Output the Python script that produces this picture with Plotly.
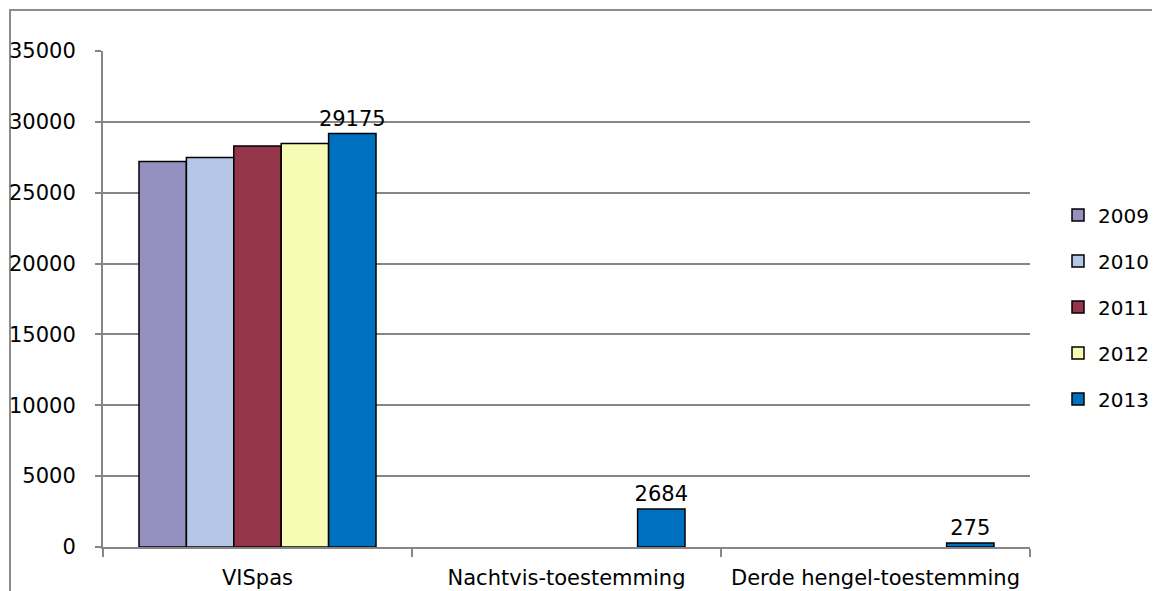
import plotly.graph_objects as go

categories = ["VISpas", "Nachtvis-toestemming", "Derde hengel-toestemming"]
years = ["2009", "2010", "2011", "2012", "2013"]
values_2009 = [27200, None, None]
values_2010 = [27480, None, None]
values_2011 = [28300, None, None]
values_2012 = [28480, None, None]
values_2013 = [29175, 2684, 275]
series = [values_2009, values_2010, values_2011, values_2012, values_2013]
colors = ["#9490C0", "#B4C7E7", "#953549", "#F7FBB4", "#0070C0"]
y_ticks = [0, 5000, 10000, 15000, 20000, 25000, 30000, 35000]
y_tick_labels = [str(v) for v in y_ticks]

FONT = "DejaVu Sans"
FS = 21
fig = go.Figure()
for i, (yr, vals, col) in enumerate(zip(years, series, colors)):
    show_text = yr == "2013"
    fig.add_trace(go.Bar(
        x=categories, y=vals, name=yr, legendgroup=yr,
        marker=dict(color=col, line=dict(color="#000000", width=1.5)),
        text=[str(v) if (show_text and v is not None) else "" for v in vals],
        textposition="outside", cliponaxis=False, constraintext="none",
        textfont=dict(family=FONT, size=FS, color="#000000"),
        outsidetextfont=dict(family=FONT, size=FS, color="#000000"),
    ))

# page body has an 8px margin: figure sits at (8, 8) in the window
OFF = 8
W, H = 1160 - OFF, 591 - OFF
L, T = 103 - OFF, 51 - OFF
R = W - (1030 - OFF)
B = H - (547 - OFF)
pw, ph = W - L - R, H - T - B

fig.update_layout(
    width=W, height=H, autosize=False,
    margin=dict(l=L, r=R, t=T, b=B, pad=0, autoexpand=False),
    paper_bgcolor="white", plot_bgcolor="white",
    barmode="group", bargap=0.233, bargroupgap=0,
    font=dict(family=FONT, size=FS, color="#000000"),
    showlegend=True,
    legend=dict(x=(1058 - 103) / pw, xanchor="left", y=(547 - 307) / ph, yanchor="middle",
                font=dict(family=FONT, size=20), tracegroupgap=17,
                bgcolor="rgba(0,0,0,0)", itemwidth=30),
    xaxis=dict(showline=True, linecolor="#868686", linewidth=2, automargin=False,
               ticks="outside", ticklen=8, tickcolor="#868686", tickwidth=2,
               tickson="boundaries", ticklabelstandoff=11,
               tickfont=dict(family=FONT, size=FS), showgrid=False),
    yaxis=dict(range=[0, 35000], tickvals=y_ticks, ticktext=y_tick_labels,
               showline=True, linecolor="#868686", linewidth=2, automargin=False,
               ticks="outside", ticklen=6, tickcolor="#868686", tickwidth=2,
               ticklabelstandoff=15, showgrid=True, gridcolor="#868686", gridwidth=1.5,
               zeroline=False, tickfont=dict(family=FONT, size=FS)),
    shapes=[dict(type="rect", xref="paper", yref="paper",
                 x0=(10 - 103) / pw, x1=(1200 - 103) / pw,
                 y0=-(80) / ph, y1=(547 - 10) / ph,
                 line=dict(color="#8C8C8C", width=2), layer="below")],
)

fig.write_html("out.html")
